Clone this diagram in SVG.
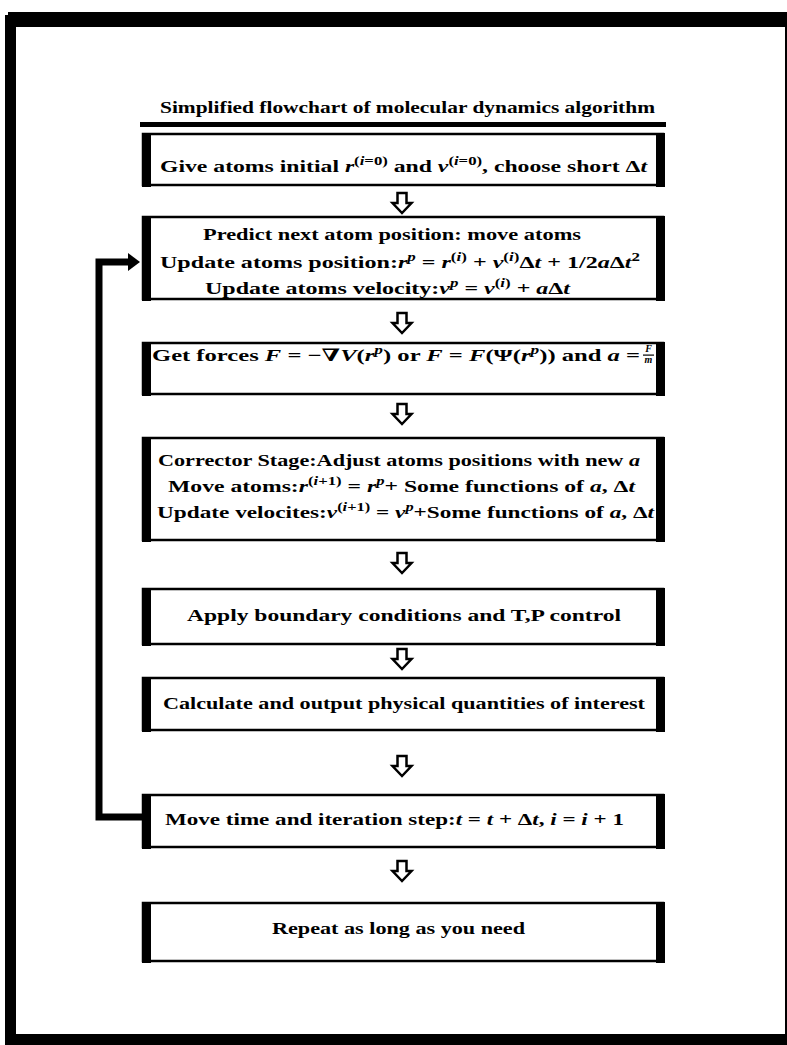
<svg xmlns="http://www.w3.org/2000/svg" width="787" height="1045" viewBox="0 0 787 1045">
<style>
.t { font-family: "Liberation Serif", "DejaVu Serif", serif; font-weight: bold; font-size: 17px; fill: #000; }
.m { font-style: italic; }
.s { font-size: 12px; }
.f { font-size: 10px; }
.box { fill: #fff; stroke: #000; stroke-width: 2.5; }
.bar { fill: #000; }
.arr { fill: #fff; stroke: #000; stroke-width: 2.5; stroke-linejoin: miter; }
.loop { fill: none; stroke: #000; stroke-width: 7; stroke-linejoin: miter; }
</style>
<defs>
<path id="down" d="M -4.5 0 H 4.5 V 10 H 9.5 L 0 20 L -9.5 10 H -4.5 Z"/>
</defs>
<rect x="0" y="0" width="787" height="1045" fill="#fff"/>
<g id="frame">
<rect x="8" y="12" width="779" height="15" fill="#000"/>
<rect x="5" y="15" width="11" height="1030" fill="#000"/>
<rect x="5" y="1034" width="782" height="11" fill="#000"/>
<rect x="785" y="12" width="2" height="1033" fill="#000"/>
</g>
<g id="title">
<text class="t" x="160" y="113" textLength="495" lengthAdjust="spacingAndGlyphs" font-size="16">Simplified flowchart of molecular dynamics algorithm</text>
<rect x="140" y="122" width="526" height="5" fill="#000"/>
</g>
<g id="connectors">
<use href="#down" class="arr" x="402" y="193"/>
<use href="#down" class="arr" x="402" y="313"/>
<use href="#down" class="arr" x="402" y="404"/>
<use href="#down" class="arr" x="402" y="553"/>
<use href="#down" class="arr" x="402" y="649"/>
<use href="#down" class="arr" x="402" y="756"/>
<use href="#down" class="arr" x="402" y="861"/>
<path class="loop" d="M 142 817 H 99 V 262 H 130"/>
<polygon points="128,253 140,262 128,271" fill="#000"/>
</g>
<g id="n1">
<rect class="box" x="143" y="134" width="520" height="51"/>
<rect class="bar" x="142" y="133" width="9" height="54"/>
<rect class="bar" x="656" y="133" width="9" height="54"/>
<text class="t" x="160" y="172" textLength="487" lengthAdjust="spacingAndGlyphs">Give atoms initial <tspan class="m">r</tspan><tspan class="s" dy="-7">(<tspan class="m">i</tspan>=0)</tspan><tspan dy="7"> and </tspan><tspan class="m">v</tspan><tspan class="s" dy="-7">(<tspan class="m">i</tspan>=0)</tspan><tspan dy="7">, choose short Δ</tspan><tspan class="m">t</tspan></text>
</g>
<g id="n2">
<rect class="box" x="143" y="217" width="520" height="82"/>
<rect class="bar" x="142" y="216" width="9" height="85"/>
<rect class="bar" x="656" y="216" width="9" height="85"/>
<text class="t" x="203" y="240" textLength="378" lengthAdjust="spacingAndGlyphs">Predict next atom position: move atoms</text>
<text class="t" x="160" y="268" textLength="480" lengthAdjust="spacingAndGlyphs">Update atoms position:<tspan class="m">r</tspan><tspan class="s m" dy="-7">p</tspan><tspan dy="7"> = </tspan><tspan class="m">r</tspan><tspan class="s" dy="-7">(<tspan class="m">i</tspan>)</tspan><tspan dy="7"> + </tspan><tspan class="m">v</tspan><tspan class="s" dy="-7">(<tspan class="m">i</tspan>)</tspan><tspan dy="7">Δ</tspan><tspan class="m">t</tspan> + 1/2<tspan class="m">a</tspan>Δ<tspan class="m">t</tspan><tspan class="s" dy="-7">2</tspan></text>
<text class="t" x="205" y="294" textLength="365" lengthAdjust="spacingAndGlyphs">Update atoms velocity:<tspan class="m">v</tspan><tspan class="s m" dy="-7">p</tspan><tspan dy="7"> = </tspan><tspan class="m">v</tspan><tspan class="s" dy="-7">(<tspan class="m">i</tspan>)</tspan><tspan dy="7"> + </tspan><tspan class="m">a</tspan>Δ<tspan class="m">t</tspan></text>
</g>
<g id="n3">
<rect class="box" x="143" y="343" width="520" height="51"/>
<rect class="bar" x="142" y="342" width="9" height="54"/>
<rect class="bar" x="656" y="342" width="9" height="54"/>
<text class="t" x="152" y="361" textLength="488" lengthAdjust="spacingAndGlyphs">Get forces <tspan class="m">F</tspan> = −∇<tspan class="m">V</tspan>(<tspan class="m">r</tspan><tspan class="s m" dy="-7">p</tspan><tspan dy="7">) or </tspan><tspan class="m">F</tspan> = <tspan class="m">F</tspan>(Ψ(<tspan class="m">r</tspan><tspan class="s m" dy="-7">p</tspan><tspan dy="7">)) and </tspan><tspan class="m">a</tspan> =</text>
<text class="t m f" x="648.5" y="352" text-anchor="middle">F</text>
<rect x="643" y="354.5" width="11" height="1.2" fill="#000"/>
<text class="t m f" x="648.5" y="363" text-anchor="middle">m</text>
</g>
<g id="n4">
<rect class="box" x="143" y="438" width="520" height="102"/>
<rect class="bar" x="142" y="437" width="9" height="105"/>
<rect class="bar" x="656" y="437" width="9" height="105"/>
<text class="t" x="158" y="466" textLength="482" lengthAdjust="spacingAndGlyphs">Corrector Stage:Adjust atoms positions with new <tspan class="m">a</tspan></text>
<text class="t" x="168" y="492" textLength="467" lengthAdjust="spacingAndGlyphs">Move atoms:<tspan class="m">r</tspan><tspan class="s" dy="-7">(<tspan class="m">i</tspan>+1)</tspan><tspan dy="7"> = </tspan><tspan class="m">r</tspan><tspan class="s m" dy="-7">p</tspan><tspan dy="7">+ Some functions of </tspan><tspan class="m">a</tspan>, Δ<tspan class="m">t</tspan></text>
<text class="t" x="157" y="518" textLength="497" lengthAdjust="spacingAndGlyphs">Update velocites:<tspan class="m">v</tspan><tspan class="s" dy="-7">(<tspan class="m">i</tspan>+1)</tspan><tspan dy="7"> = </tspan><tspan class="m">v</tspan><tspan class="s m" dy="-7">p</tspan><tspan dy="7">+Some functions of </tspan><tspan class="m">a</tspan>, Δ<tspan class="m">t</tspan></text>
</g>
<g id="n5">
<rect class="box" x="143" y="589" width="520" height="55"/>
<rect class="bar" x="142" y="588" width="9" height="58"/>
<rect class="bar" x="656" y="588" width="9" height="58"/>
<text class="t" x="187" y="621" textLength="434" lengthAdjust="spacingAndGlyphs">Apply boundary conditions and T,P control</text>
</g>
<g id="n6">
<rect class="box" x="143" y="678" width="520" height="52"/>
<rect class="bar" x="142" y="677" width="9" height="55"/>
<rect class="bar" x="656" y="677" width="9" height="55"/>
<text class="t" x="163" y="709" textLength="482" lengthAdjust="spacingAndGlyphs">Calculate and output physical quantities of interest</text>
</g>
<g id="n7">
<rect class="box" x="143" y="795" width="520" height="52"/>
<rect class="bar" x="142" y="794" width="9" height="55"/>
<rect class="bar" x="656" y="794" width="9" height="55"/>
<text class="t" x="165" y="825" textLength="459" lengthAdjust="spacingAndGlyphs">Move time and iteration step:<tspan class="m">t</tspan> = <tspan class="m">t</tspan> + Δ<tspan class="m">t</tspan>, <tspan class="m">i</tspan> = <tspan class="m">i</tspan> + 1</text>
</g>
<g id="n8">
<rect class="box" x="143" y="903" width="520" height="58"/>
<rect class="bar" x="142" y="902" width="9" height="61"/>
<rect class="bar" x="656" y="902" width="9" height="61"/>
<text class="t" x="272" y="934" textLength="253" lengthAdjust="spacingAndGlyphs">Repeat as long as you need</text>
</g>
</svg>
